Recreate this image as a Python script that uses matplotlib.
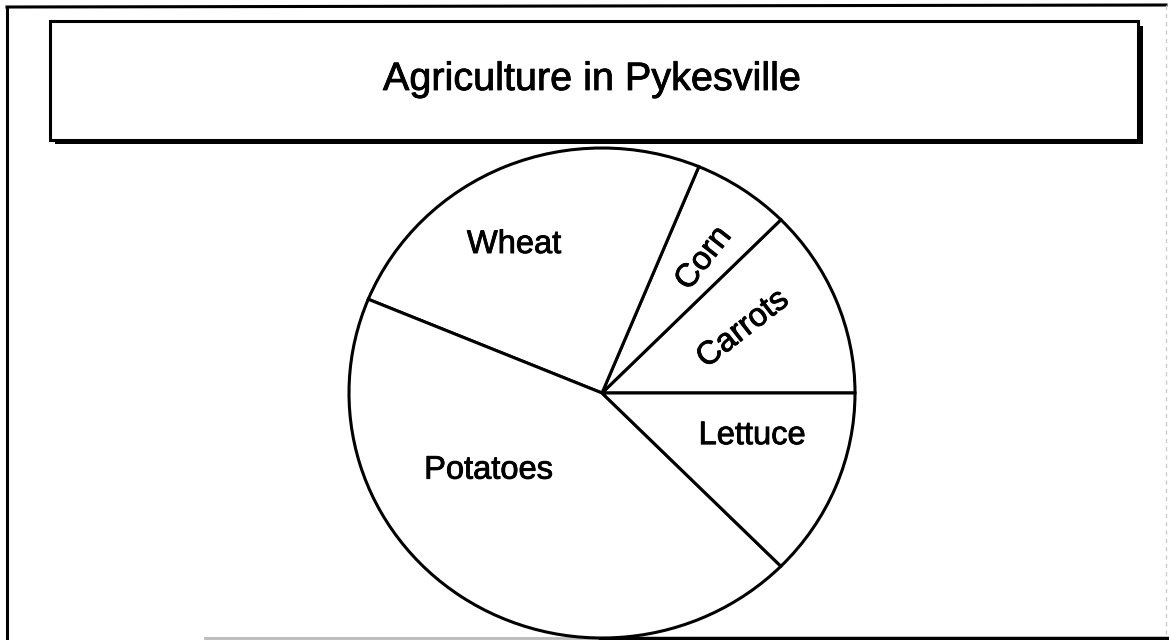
import matplotlib
matplotlib.use("Agg")
import matplotlib.pyplot as plt
from matplotlib.patches import Rectangle
import matplotlib.patheffects as pe

plt.rcParams['font.family'] = ['Liberation Sans', 'DejaVu Sans']

# Data (fractions of the farmland, in sixteenths)
categories = ["Carrots", "Corn", "Wheat", "Potatoes", "Lettuce"]
values = [2, 1, 4, 7, 2]
title = "Agriculture in Pykesville"

# Label placement (normalized pie coords) and rotation
label_pos = [(0.557, 0.261), (0.402, 0.549), (-0.348, 0.606), (-0.449, -0.315), (0.593, -0.174)]
label_rot = [38, 52, 0, 0, 0]

W, H = 1169, 640
fig = plt.figure(figsize=(W / 100, H / 100), dpi=100)
fig.patch.set_facecolor("white")

thick = [pe.withStroke(linewidth=0.6, foreground="black")]

# Background axes in pixel coordinates
bg = fig.add_axes([0, 0, 1, 1])
bg.set_xlim(0, W)
bg.set_ylim(H, 0)
bg.axis("off")

# Outer frame
bg.plot([7, 7], [7, 640], color="black", lw=2.2, solid_capstyle="butt")
bg.plot([7, 1166], [7, 5], color="black", lw=2.2)
bg.plot([205, 600], [638, 638], color="#bbbbbb", lw=2)
bg.plot([600, 1169], [638, 638], color="black", lw=2.5)
bg.plot([1166, 1166], [5, 638], color="#cccccc", lw=1, ls=(0, (3, 3)))

# Title box with shadow
bg.add_patch(Rectangle((55, 26), 1088, 118, facecolor="black", edgecolor="none"))
bg.add_patch(Rectangle((50, 21), 1088, 119, facecolor="white", edgecolor="black", lw=2.2))
bg.text(592, 90, title, fontsize=28.5, ha="center", va="baseline", color="black",
        path_effects=thick)

# Pie axes (slightly elliptical as in the scan)
cx, cy, rx, ry = 602, 393, 253, 245
ax = fig.add_axes([(cx - rx) / W, (H - cy - ry) / H, 2 * rx / W, 2 * ry / H])
wedges, _ = ax.pie(values, startangle=0, counterclock=True,
                   colors=["white"] * len(values),
                   wedgeprops=dict(edgecolor="black", linewidth=2.2))
for w in wedges:
    w.set_clip_on(False)
ax.set_aspect("auto")
ax.set_xlim(-1, 1)
ax.set_ylim(-1, 1)
ax.axis("off")

for name, (x, y), rot in zip(categories, label_pos, label_rot):
    ax.text(x, y, name, fontsize=23.5, ha="center", va="center",
            rotation=rot, rotation_mode="anchor", color="black",
            path_effects=thick)

fig.savefig("out.png", dpi=100, facecolor="white")
